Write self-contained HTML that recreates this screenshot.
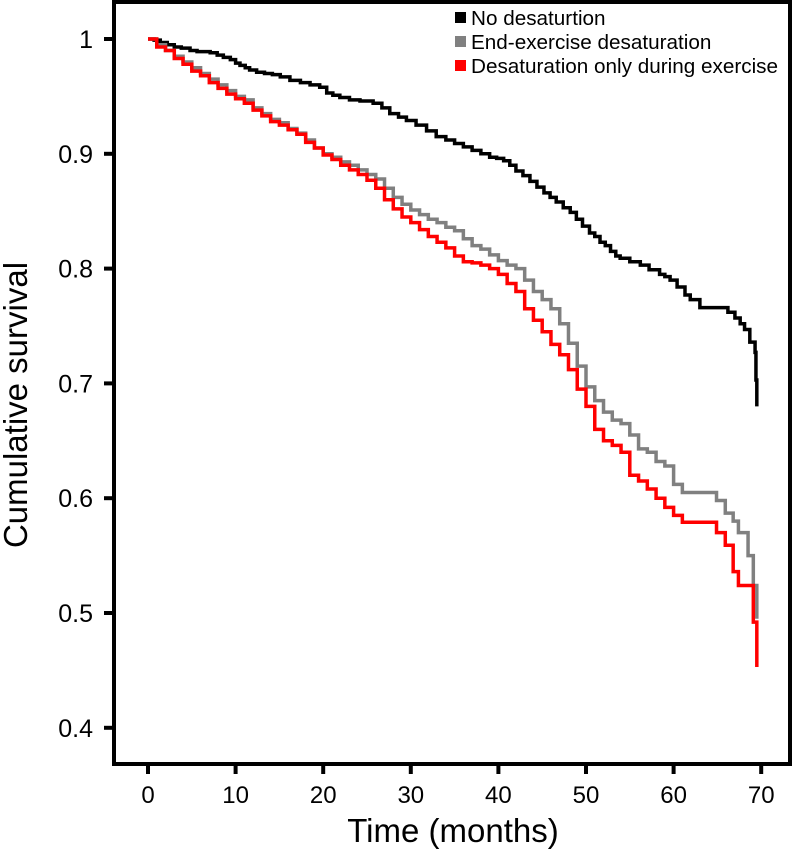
<!DOCTYPE html>
<html><head><meta charset="utf-8"><style>
html,body{margin:0;padding:0;background:#fff}
svg{display:block;font-family:"Liberation Sans",Arial,sans-serif}
</style></head><body>
<svg id="chart" width="793" height="853" viewBox="0 0 793 853">
<g id="series"></g>
<rect x="114" y="2" width="676" height="762" fill="none" stroke="#000" stroke-width="4"/>
<g id="axes"></g>
<text x="27" y="405" font-size="33" text-anchor="middle" transform="rotate(-90 27 405)">Cumulative survival</text>
<text x="453" y="842" font-size="33" text-anchor="middle">Time (months)</text>
<g>
<rect x="455" y="12" width="11" height="11" fill="#000"/>
<text x="471" y="25" font-size="20.7">No desaturtion</text>
<rect x="455" y="36" width="11" height="11" fill="#808080"/>
<text x="471" y="49" font-size="20.7">End-exercise desaturation</text>
<rect x="455" y="60" width="11" height="11" fill="#ff0000"/>
<text x="471" y="73" font-size="20.7">Desaturation only during exercise</text>
</g>
</svg>
<script>
const xTicks=[0,10,20,30,40,50,60,70];
const yTicks=[0.4,0.5,0.6,0.7,0.8,0.9,1];
const yTickLabels=["0.4","0.5","0.6","0.7","0.8","0.9","1"];
const blackT=[0,0.7,1.4,2.2,3.0,3.8,4.8,5.6,6.4,7.1,7.9,8.6,9.4,10.0,10.5,11.1,11.6,12.4,13.3,14.2,15.1,16.2,17.4,18.5,19.6,20.4,21.1,21.9,23.0,24.2,25.7,26.7,27.6,28.6,29.5,30.6,31.8,32.9,34.0,35.0,36.0,37.0,38.0,39.0,39.8,40.6,41.3,42.0,42.8,43.6,44.4,45.2,45.9,46.6,47.4,48.2,48.9,49.6,50.4,51.0,51.6,52.2,52.8,53.4,53.9,55.0,56.2,57.2,58.4,59.0,59.6,60.4,61.3,61.9,63.0,65.1,66.2,67.0,67.6,68.1,68.7,69.3,69.4,69.5];
const blackS=[1,0.999,0.997,0.995,0.993,0.992,0.990,0.989,0.989,0.988,0.986,0.984,0.982,0.979,0.977,0.975,0.973,0.971,0.970,0.969,0.967,0.964,0.962,0.960,0.958,0.953,0.951,0.949,0.947,0.946,0.944,0.940,0.935,0.932,0.929,0.925,0.920,0.915,0.912,0.909,0.906,0.903,0.900,0.897,0.896,0.894,0.890,0.885,0.881,0.876,0.871,0.866,0.862,0.858,0.853,0.849,0.843,0.837,0.831,0.828,0.823,0.820,0.815,0.811,0.809,0.806,0.803,0.799,0.795,0.793,0.790,0.784,0.777,0.773,0.766,0.766,0.762,0.757,0.752,0.747,0.736,0.727,0.703,0.68];
const grayT=[0,1,2,3,4,5,6,7,8,9,10,11,12,13,14,15,16,17,18,19,20,21,22,23,24,25,26,27,28,29,30,31,32,33,34,35,36,37,38,39,40,41,42,43,44,45,46,47,48,49,50,51,52,53,54,55,56,57,58,59,60,61,64.9,65.9,66.8,67.4,68.5,69.1,69.5];
const grayS=[1,0.995,0.99,0.985,0.98,0.975,0.97,0.965,0.96,0.955,0.95,0.947,0.94,0.935,0.93,0.927,0.922,0.918,0.912,0.905,0.9,0.897,0.893,0.89,0.886,0.882,0.878,0.87,0.862,0.856,0.851,0.847,0.843,0.84,0.836,0.833,0.826,0.82,0.817,0.812,0.807,0.803,0.8,0.79,0.78,0.773,0.765,0.752,0.735,0.715,0.697,0.685,0.675,0.668,0.665,0.655,0.643,0.64,0.632,0.628,0.612,0.605,0.598,0.587,0.58,0.57,0.55,0.524,0.495];
const redT=[0,1,2,3,4,5,6,7,8,9,10,11,12,13,14,15,16,17,18,19,20,21,22,23,24,25,26,27,28,29,30,31,32,33,34,35,36,37,38,39,40,41,42,43,44,45,46,47,48,49,50,51,52,53,54,55,56,57,58,59,60,61,64.9,65.9,66.8,67.4,69.1,69.5];
const redS=[1,0.993,0.99,0.983,0.978,0.972,0.968,0.962,0.957,0.952,0.948,0.944,0.938,0.933,0.928,0.925,0.921,0.917,0.91,0.905,0.899,0.895,0.89,0.886,0.882,0.877,0.87,0.86,0.852,0.845,0.84,0.834,0.828,0.823,0.818,0.811,0.806,0.805,0.803,0.8,0.795,0.787,0.78,0.765,0.755,0.745,0.734,0.725,0.712,0.695,0.68,0.66,0.65,0.646,0.64,0.62,0.615,0.608,0.6,0.592,0.585,0.579,0.570,0.559,0.536,0.524,0.492,0.453];

const NS='http://www.w3.org/2000/svg';
function xS(t){return 148+t*8.76;}
function yS(s){return 39+(1-s)*1148;}
const axes=document.getElementById('axes');
xTicks.forEach(t=>{
  const l=document.createElementNS(NS,'line');
  l.setAttribute('x1',xS(t));l.setAttribute('x2',xS(t));l.setAttribute('y1',764);l.setAttribute('y2',774);
  l.setAttribute('stroke','#000');l.setAttribute('stroke-width','4');
  
  
  axes.appendChild(l);
  const tx=document.createElementNS(NS,'text');
  tx.setAttribute('x',xS(t));tx.setAttribute('y',803);tx.setAttribute('font-size','24');tx.setAttribute('text-anchor','middle');
  tx.textContent=String(t);
  
  
  axes.appendChild(tx);
});
yTicks.forEach((v,i)=>{
  const l=document.createElementNS(NS,'line');
  l.setAttribute('x1',104);l.setAttribute('x2',114);l.setAttribute('y1',yS(v));l.setAttribute('y2',yS(v));
  l.setAttribute('stroke','#000');l.setAttribute('stroke-width','4');
  
  
  axes.appendChild(l);
  const tx=document.createElementNS(NS,'text');
  tx.setAttribute('x',93);tx.setAttribute('y',yS(v)+9);tx.setAttribute('font-size','25');tx.setAttribute('text-anchor','end');
  tx.textContent=yTickLabels[i];
  
  
  axes.appendChild(tx);
});
function stepPath(T,S){
  let d='M'+xS(T[0])+','+yS(S[0]);
  for(let i=1;i<T.length;i++){d+=' H'+xS(T[i])+' V'+yS(S[i]);}
  return d;
}
const series=document.getElementById('series');
[[blackT,blackS,'#000','curve-no-desaturation'],[grayT,grayS,'#808080','curve-end-exercise-desaturation'],[redT,redS,'#ff0000','curve-desaturation-during-exercise']].forEach(c=>{
  const p=document.createElementNS(NS,'path');
  p.setAttribute('d',stepPath(c[0],c[1]));
  p.setAttribute('fill','none');p.setAttribute('stroke',c[2]);p.setAttribute('stroke-width','3.5');
  
  
  series.appendChild(p);
});
</script>
</body></html>
